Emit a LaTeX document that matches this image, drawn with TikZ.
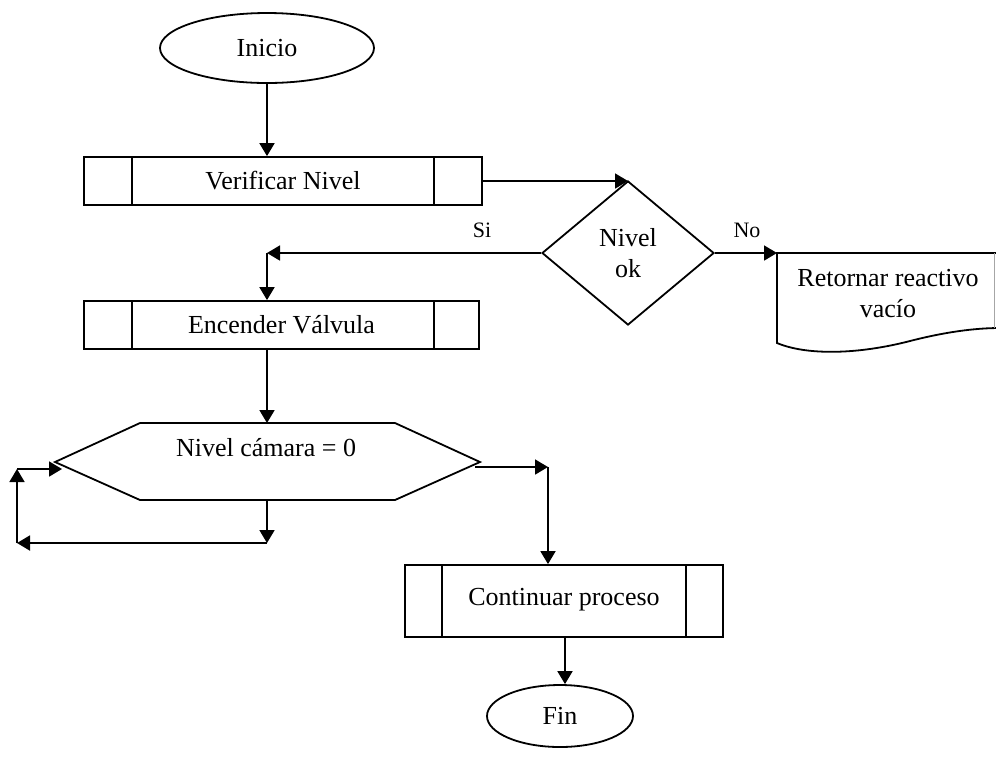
\documentclass[tikz,border=0pt]{standalone}
\usepackage{fontspec}
\setmainfont{Liberation Serif}
\usetikzlibrary{arrows.meta,shapes.geometric,calc}

\begin{document}
\begin{tikzpicture}[x=0.5pt,y=-0.5pt,
  line width=0.9pt,
  txt/.style={font=\fontsize{13}{15.5}\selectfont},
  lbl/.style={font=\fontsize{11}{13}\selectfont},
  arr/.style={-{Triangle[length=6.5pt,width=7.5pt]}},
  terminal/.style={draw,ellipse,inner sep=0pt,txt},
  procbox/.style={draw,rectangle,inner sep=0pt,txt},
  decision/.style={draw,diamond,inner sep=0pt,aspect=1.19,minimum width=86pt,minimum height=72pt,txt,align=center}
]
\useasboundingbox (0,0) rectangle (996,757);
\clip (0,0) rectangle (996,757);

% start / end terminals
\node[terminal,minimum width=107pt,minimum height=35pt] (ini) at (267,48) {Inicio};
\node[terminal,minimum width=73pt,minimum height=31pt] (fin) at (560,716) {Fin};

% predefined processes
\node[procbox,minimum width=199pt,minimum height=24pt] (ver) at (283,181) {Verificar Nivel};
\node[procbox,minimum width=197.5pt,minimum height=24pt] (enc) at (281.5,325) {Encender Válvula};
\node[procbox,minimum width=159pt,minimum height=36pt] (cont) at (564,601) {\raisebox{4pt}{Continuar proceso}};
\foreach \n/\a/\b in {ver/49/49,enc/49/46,cont/38/38}{
  \draw ($(\n.north west)+(\a,0)$) -- ($(\n.south west)+(\a,0)$);
  \draw ($(\n.north east)+(-\b,0)$) -- ($(\n.south east)+(-\b,0)$);
}

% decision
\node[decision] (dia) at (628,253) {Nivel\\ok};

% preparation (loop condition)
\coordinate (hL) at (55,462);
\coordinate (hTL) at (140,423);
\coordinate (hTR) at (395,423);
\coordinate (hR) at (480,462);
\coordinate (hBR) at (395,500);
\coordinate (hBL) at (140,500);
\draw (hL) -- (hTL) -- (hTR) -- (hR) -- (hBR) -- (hBL) -- cycle;
\node[txt] (hex) at (266,448) {Nivel cámara = 0};

% document
\coordinate (dTL) at (777,253);
\draw (1000,253) -- (dTL) -- (777,343)
  .. controls (808,356) and (860,354) .. (910,341)
  .. controls (945,332) and (975,328) .. (1000,328);
\draw[black!35,line width=0.5pt] (994,253) -- (994,328);
\node[txt,align=center] (doc) at (888,294) {Retornar reactivo\\vacío};

% connector waypoints
\coordinate (si) at (267,253);
\coordinate (htop) at (267,423);
\coordinate (hbot) at (267,500);
\coordinate (l1) at (267,543);
\coordinate (l2) at (17,543);
\coordinate (l3) at (17,469);
\coordinate (l4) at (62,469);
\coordinate (r0) at (475,467);
\coordinate (r1) at (548,467);
\coordinate (c0) at (565,637);

% connectors
\draw[arr] (ini.south) -- (ini.south |- ver.north);
\draw[arr] (ver.east) -- (ver.east -| dia.north);
\draw[arr] (dia.west) -- (si);
\draw[arr] (si) -- (si |- enc.north);
\draw[arr] (dia.east) -- (dTL);
\draw[arr] (si |- enc.south) -- (htop);
\draw[arr] (hbot) -- (l1);
\draw[arr] (l1) -- (l2);
\draw[arr] (l2) -- (l3);
\draw[arr] (l3) -- (l4);
\draw[arr] (r0) -- (r1);
\draw[arr] (r1) -- (r1 |- cont.north);
\draw[arr] (c0) -- (c0 |- fin.north);

% branch labels
\node[lbl] at (482,230) {Si};
\node[lbl] at (747,230) {No};
\end{tikzpicture}
\end{document}
